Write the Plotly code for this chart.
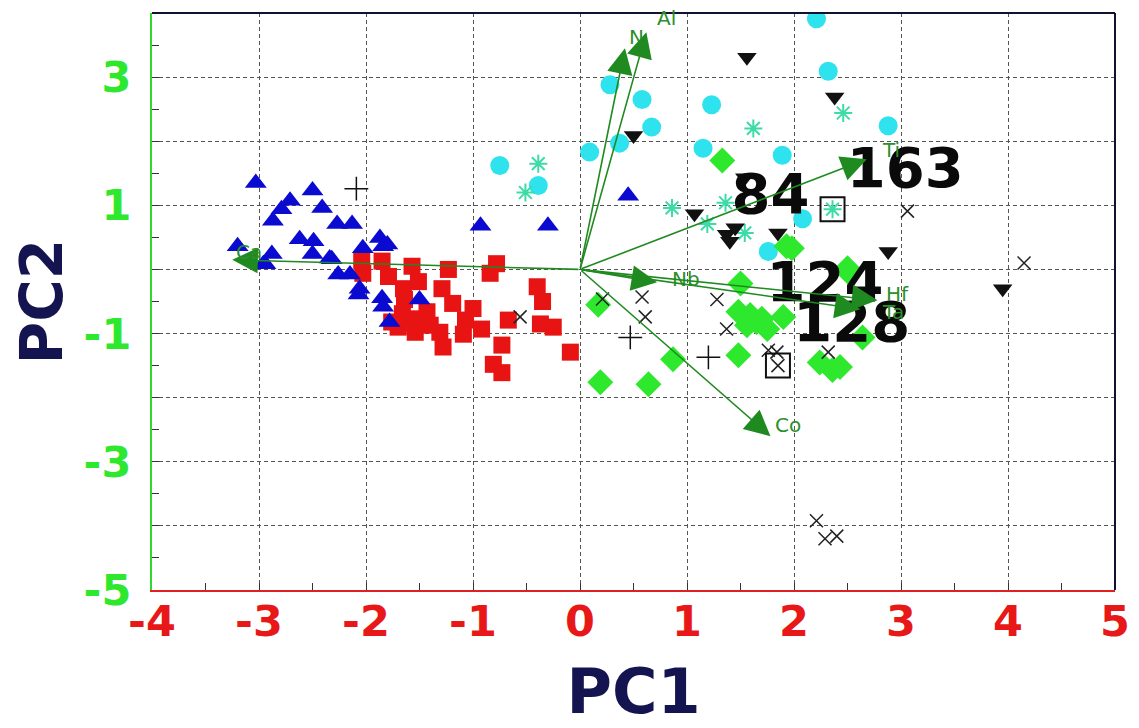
import plotly.graph_objects as go

# ---- 样本得分 (PC1, PC2) ----
blue_x = [-3.03, -2.71, -2.50, -2.79, -2.41, -2.87, -2.27, -2.13, -2.62, -2.49, -2.50, -3.20,
          -2.88, -2.94, -2.34, -2.03, -1.84, -1.80, -0.93, -0.30, -2.26, -2.15, -2.06, -2.07,
          -1.85, -1.84, -1.50, -1.78, -2.96, -2.32, 0.45, -1.87]
blue_y = [1.35, 1.07, 1.23, 0.94, 0.96, 0.76, 0.71, 0.71, 0.47, 0.44, 0.24, 0.36,
          0.24, 0.08, 0.17, 0.33, 0.36, 0.39, 0.68, 0.68, -0.08, -0.08, -0.30, -0.39,
          -0.45, -0.58, -0.47, -0.82, 0.08, 0.16, 1.15, 0.49]

red_x = [-2.04, -2.03, -1.85, -1.79, -1.57, -1.51, -1.65, -1.64, -1.66, -1.70, -1.54, -1.51,
         -1.43, -1.23, -1.29, -1.19, -1.00, -1.07, -0.92, -1.09, -1.31, -1.28, -0.78, -0.84,
         -0.40, -0.35, -0.67, -0.37, -0.25, -0.73, -0.81, -0.73, -0.09, -1.57, -1.76, -1.40]
red_y = [0.13, -0.06, 0.13, -0.11, 0.05, -0.19, -0.30, -0.47, -0.69, -0.90, -0.98, -0.77,
         -0.66, 0.00, -0.30, -0.53, -0.61, -0.79, -0.93, -1.01, -0.98, -1.21, 0.09, -0.06,
         -0.27, -0.50, -0.79, -0.85, -0.90, -1.18, -1.48, -1.61, -1.29, -0.85, -0.82, -0.87]

cyan_x = [2.21, 2.32, 0.28, 0.58, 0.67, 1.23, 0.09, 0.37, 1.15, 1.89, 2.88, 2.08, 1.76, -0.75, -0.39]
cyan_y = [3.91, 3.09, 2.88, 2.65, 2.22, 2.57, 1.83, 1.97, 1.89, 1.78, 2.24, 0.79, 0.28, 1.62, 1.31]

star_x = [2.46, 1.62, 0.86, 1.36, 1.19, 1.54, 2.36, -0.39, -0.51]
star_y = [2.44, 2.20, 0.96, 1.04, 0.71, 0.57, 0.94, 1.65, 1.20]

green_x = [1.33, 1.98, 2.50, 1.50, 0.17, 0.19, 0.64, 0.87, 1.48, 1.48, 1.59, 1.65, 1.56,
           1.75, 1.90, 2.24, 2.36, 2.43, 2.50, 2.64, 1.70, 1.93]
green_y = [1.70, 0.33, 0.02, -0.22, -0.55, -1.76, -1.79, -1.40, -1.34, -0.66, -0.71, -0.82, -0.87,
           -0.93, -0.74, -1.45, -1.57, -1.52, -0.03, -1.06, -0.77, 0.36]

tri_dn_x = [1.56, 2.38, 0.50, 1.07, 1.37, 1.40, 1.85, 2.88, 1.54, 1.45, 3.95]
tri_dn_y = [3.31, 2.69, 2.09, 0.87, 0.55, 0.44, 0.57, 0.28, 1.43, 0.65, -0.30]

xmark_x = [0.21, 0.58, 0.61, 1.28, 1.37, 1.76, 1.84, 1.85, 2.32, -0.56, 3.06, 4.15, 2.21, 2.29, 2.40]
xmark_y = [-0.46, -0.43, -0.74, -0.47, -0.93, -1.26, -1.29, -1.50, -1.29, -0.74, 0.91, 0.10, -3.92, -4.20, -4.16]

plus_x = [-2.09, 0.47, 1.20]
plus_y = [1.26, -1.06, -1.37]

box_x = [2.36, 1.85]
box_y = [0.94, -1.50]

# ---- 载荷向量 ----
load_names = ["Ca", "N", "Al", "Ti", "Nb", "Hf", "Ta", "Co"]
load_x = [-3.25, 0.42, 0.62, 2.68, 0.72, 2.78, 2.62, 1.78]
load_y = [0.15, 3.45, 3.70, 1.72, -0.20, -0.48, -0.62, -2.60]
label_dx = [0.02, 0.02, 0.08, 0.12, 0.12, 0.06, 0.18, 0.02]
label_dy = [0.12, 0.18, 0.22, 0.15, 0.05, 0.10, -0.05, 0.18]

# ---- 标注的样品号 ----
id_text = ["84", "163", "124", "128"]
id_x = [1.78, 3.04, 2.29, 2.54]
id_y = [1.10, 1.50, -0.28, -0.90]

x_ticks = [-4, -3, -2, -1, 0, 1, 2, 3, 4, 5]
x_text = ['-4', '-3', '-2', '-1', '0', '1', '2', '3', '4', '5']
y_ticks = [-5, -4, -3, -2, -1, 0, 1, 2, 3, 4]
y_text = ['-5', '', '-3', '', '-1', '', '1', '', '3', '']

fig = go.Figure()

fig.add_trace(go.Scatter(x=red_x, y=red_y, mode='markers',
                         marker=dict(symbol='square', size=17, color='#e81414')))
fig.add_trace(go.Scatter(x=blue_x, y=blue_y, mode='markers',
                         marker=dict(symbol='triangle-up', size=19, color='#0a0ad0')))
fig.add_trace(go.Scatter(x=cyan_x, y=cyan_y, mode='markers',
                         marker=dict(symbol='circle', size=19, color='#2ee3ee')))
fig.add_trace(go.Scatter(x=star_x, y=star_y, mode='markers',
                         marker=dict(symbol='asterisk-open', size=15, color='#3ddba8',
                                     line=dict(width=2))))
fig.add_trace(go.Scatter(x=green_x, y=green_y, mode='markers',
                         marker=dict(symbol='diamond', size=20, color='#2ee82e')))
fig.add_trace(go.Scatter(x=tri_dn_x, y=tri_dn_y, mode='markers',
                         marker=dict(symbol='triangle-down', size=17, color='#111111')))
fig.add_trace(go.Scatter(x=xmark_x, y=xmark_y, mode='markers',
                         marker=dict(symbol='x-thin-open', size=13, color='#222222',
                                     line=dict(width=1.5))))
fig.add_trace(go.Scatter(x=plus_x, y=plus_y, mode='markers',
                         marker=dict(symbol='cross-thin-open', size=17, color='#111111',
                                     line=dict(width=1.5))))
fig.add_trace(go.Scatter(x=box_x, y=box_y, mode='markers',
                         marker=dict(symbol='square-open', size=24, color='#111111',
                                     line=dict(width=2))))

# 样品号
fig.add_trace(go.Scatter(x=id_x, y=id_y, mode='text', text=id_text,
                         textfont=dict(family='DejaVu Sans', size=56, color='#0a0a0a',
                                       weight='bold'),
                         textposition='middle center'))

# 载荷箭头
for name, lx, ly, dx, dy in zip(load_names, load_x, load_y, label_dx, label_dy):
    fig.add_annotation(x=lx, y=ly, ax=0, ay=0, xref='x', yref='y', axref='x', ayref='y',
                       text='', showarrow=True, arrowhead=2, arrowsize=3.2,
                       arrowwidth=1.6, arrowcolor='#1f8a1f')
    fig.add_annotation(x=lx + dx, y=ly + dy, text=name, showarrow=False,
                       xanchor='left', font=dict(family='DejaVu Sans', size=20, color='#2b8f2b'))

fig.update_xaxes(
    range=[-4, 5], tickvals=x_ticks, ticktext=x_text,
    showgrid=True, gridcolor='#555555', griddash='4px,3px', gridwidth=1,
    showline=True, linecolor='#e02020', linewidth=2,
    ticks='inside', ticklen=7, tickcolor='#333333',
    minor=dict(dtick=0.5, ticks='inside', ticklen=7, tickcolor='#333333', showgrid=False),
    tickfont=dict(family='DejaVu Sans', size=43, color='#e81818', weight='bold'),
    ticklabelstandoff=-8,
    title=dict(text='<b>PC1</b>', font=dict(family='DejaVu Sans', size=62, color='#141450'),
               standoff=37),
    zeroline=False, automargin=False,
)

fig.update_yaxes(
    range=[-5, 4], tickvals=y_ticks, ticktext=y_text,
    showgrid=True, gridcolor='#555555', griddash='4px,3px', gridwidth=1,
    showline=True, linecolor='#30d830', linewidth=2,
    ticks='inside', ticklen=7, tickcolor='#333333',
    minor=dict(dtick=0.5, ticks='inside', ticklen=7, tickcolor='#333333', showgrid=False),
    tickfont=dict(family='DejaVu Sans', size=43, color='#2ee82e', weight='bold'),
    ticklabelstandoff=10,
    title=dict(text='<b>PC2</b>', font=dict(family='DejaVu Sans', size=58, color='#141450'),
               standoff=21),
    zeroline=False, automargin=False,
)

# 上边框、右边框
fig.add_shape(type='line', xref='paper', yref='paper', x0=0, x1=1, y0=1, y1=1,
              line=dict(color='#111133', width=2))
fig.add_shape(type='line', xref='paper', yref='paper', x0=1, x1=1, y0=0, y1=1,
              line=dict(color='#111133', width=2))

fig.update_layout(
    width=1131, height=720,
    margin=dict(l=144, r=24, t=5, b=138),
    plot_bgcolor='white', paper_bgcolor='white',
    showlegend=False,
)

fig.write_html("out.html")
